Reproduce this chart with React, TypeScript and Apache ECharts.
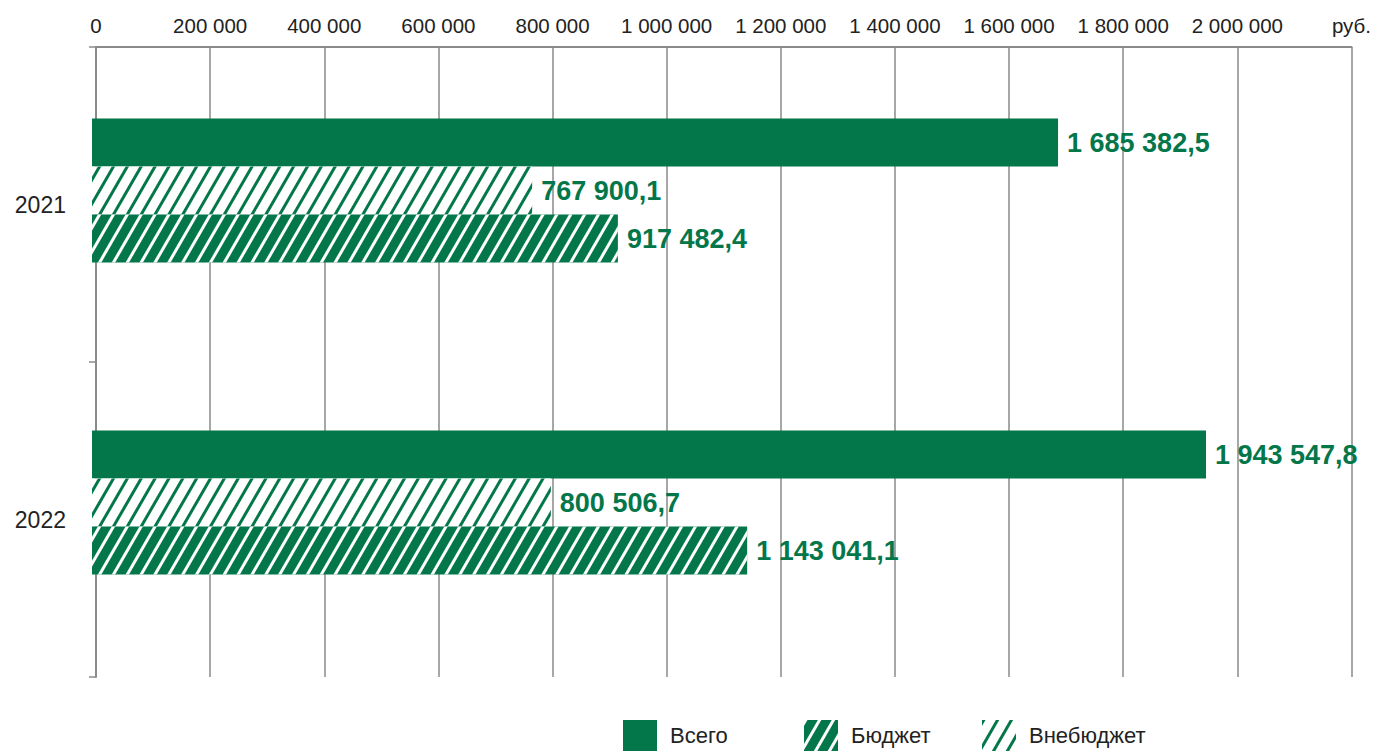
import React, { useEffect, useRef } from "react";
import * as echarts from "echarts";

const categories = ["2021", "2022"];
const seriesNames = ["Всего", "Внебюджет", "Бюджет"];
const totalValues = [1685382.5, 1943547.8];
const offBudgetValues = [767900.1, 800506.7];
const budgetValues = [917482.4, 1143041.1];
const legendOrder = ["Всего", "Бюджет", "Внебюджет"];
const axisMax = 2200000;
const axisStep = 200000;
const unitLabel = "руб.";

const GREEN = "#04774A";
const FONT = "'Liberation Sans', Arial, sans-serif";

const thousands = (s: string) => s.replace(/\B(?=(\d{3})+(?!\d))/g, " ");
const fmtValue = (v: number) => {
  const [i, d] = v.toFixed(1).split(".");
  return thousands(i) + "," + d;
};

export default function App() {
  const ref = useRef<HTMLDivElement>(null);
  useEffect(() => {
    if (!ref.current) return;
    const chart = echarts.init(ref.current, undefined, { renderer: "svg" });
    const hatch = (lineColor: string, w: number, gap: number) => ({
      symbol: "rect",
      symbolSize: 1,
      color: lineColor,
      dashArrayX: [1, 0],
      dashArrayY: [w, gap],
      rotation: -Math.PI / 3,
    });
    const label = {
      show: true,
      position: "right",
      distance: 9,
      color: GREEN,
      fontSize: 27,
      fontWeight: "bold",
      fontFamily: FONT,
      formatter: (p: any) => fmtValue(p.value),
    };
    const barBase = {
      type: "bar",
      xAxisIndex: 1,
      yAxisIndex: 1,
      barWidth: 48,
      barGap: "0%",
      label,
    };
    const legendBase = {
      top: 720,
      padding: 0,
      itemWidth: 34,
      itemHeight: 31,
      icon: "rect",
      textStyle: { fontSize: 22, color: "#222", fontFamily: FONT, padding: [0, 0, 0, 8] },
      selectedMode: false,
    };
    chart.setOption({
      animation: false,
      grid: [
        { left: 96, right: 17, top: 47, height: 630 },
        { left: 92, right: 21, top: 34.5, height: 624 },
      ],
      xAxis: [
        {
          type: "value",
          gridIndex: 0,
          position: "top",
          min: 0,
          max: axisMax,
          interval: axisStep,
          axisLine: { show: true, lineStyle: { color: "#8a8a8a", width: 2 } },
          axisTick: { show: false },
          splitLine: { show: true, lineStyle: { color: "#8a8a8a", width: 1.5 } },
          axisLabel: {
            margin: 11,
            fontSize: 20.5,
            color: "#222",
            fontFamily: FONT,
            formatter: (v: number) => (v >= axisMax ? unitLabel : thousands(String(v))),
          },
        },
        { type: "value", gridIndex: 1, min: 0, max: axisMax, show: false },
      ],
      yAxis: [
        {
          type: "category",
          gridIndex: 0,
          inverse: true,
          data: categories,
          axisLine: { show: true, lineStyle: { color: "#8a8a8a", width: 2 } },
          axisTick: { show: true, length: 7, lineStyle: { color: "#8a8a8a", width: 1.5 } },
          axisLabel: { margin: 30, fontSize: 23, color: "#222", fontFamily: FONT },
        },
        { type: "category", gridIndex: 1, inverse: true, data: categories, show: false },
      ],
      legend: [
        { ...legendBase, left: 623, data: [legendOrder[0]] },
        { ...legendBase, left: 804, data: [legendOrder[1]] },
        { ...legendBase, left: 982, data: [legendOrder[2]] },
      ],
      series: [
        { ...barBase, name: seriesNames[0], data: totalValues, itemStyle: { color: GREEN } },
        {
          ...barBase,
          name: seriesNames[1],
          data: offBudgetValues,
          itemStyle: { color: "#ffffff", decal: hatch(GREEN, 2.5, 8.5) },
        },
        {
          ...barBase,
          name: seriesNames[2],
          data: budgetValues,
          itemStyle: { color: GREEN, decal: hatch("#ffffff", 2.5, 8.5) },
        },
      ],
    });
    return () => chart.dispose();
  }, []);
  return (
    <div
      ref={ref}
      style={{ position: "fixed", left: 0, top: 0, width: 1374, height: 751, background: "#fff" }}
    />
  );
}
